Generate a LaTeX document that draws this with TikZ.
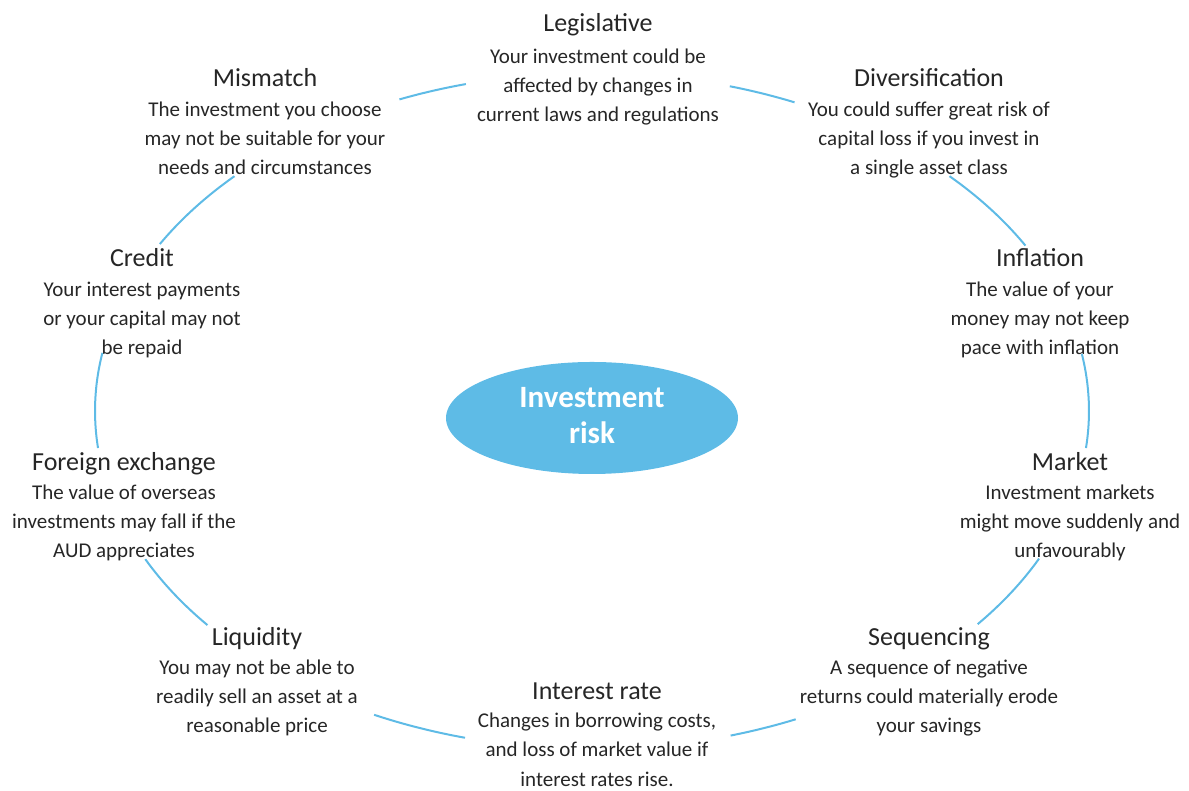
\documentclass[tikz,border=0pt]{standalone}
\usepackage{fontspec}
\setmainfont{Carlito}
\usetikzlibrary{shapes.geometric}
\definecolor{riskblue}{RGB}{94,187,230}
\definecolor{txt}{RGB}{38,38,38}
\begin{document}
\begin{tikzpicture}[x=1pt,y=1pt,
  ttl/.style={font=\fontsize{26}{30}\selectfont, text=txt, inner sep=0pt, anchor=base},
  bdy/.style={font=\fontsize{21}{29}\selectfont, text=txt, align=center, inner sep=0pt},
  seg/.style={draw=riskblue, line width=2pt},
  hub/.style={ellipse, fill=riskblue, minimum width=292pt, minimum height=112pt, inner sep=0pt,
    text=white, align=center, font=\fontsize{31}{36}\selectfont\bfseries},
]
\useasboundingbox (0,0) rectangle (1189,791);

% centre
\node[hub] (hub) at (592,373) {\strut Investment\\\strut risk};

% labels
\node[ttl] (legT) at (598,759) {Legislative};
\node[bdy] (legB) at (598,704) {\strut Your investment could be\\\strut affected by changes in\\\strut current laws and regulations};

\node[ttl] (misT) at (265,704) {Mismatch};
\node[bdy] (misB) at (265,651) {\strut The investment you choose\\\strut may not be suitable for your\\\strut needs and circumstances};

\node[ttl] (divT) at (929,704) {Diversification};
\node[bdy] (divB) at (929,651) {\strut You could suffer great risk of\\\strut capital loss if you invest in\\\strut a single asset class};

\node[ttl] (creT) at (142,524) {Credit};
\node[bdy] (creB) at (142,471) {\strut Your interest payments\\\strut or your capital may not\\\strut be repaid};

\node[ttl] (infT) at (1040,524) {Inflation};
\node[bdy] (infB) at (1040,471) {\strut The value of your\\\strut money may not keep\\\strut pace with inflation};

\node[ttl] (forT) at (124,320) {Foreign exchange};
\node[bdy] (forB) at (124,268) {\strut The value of overseas\\\strut investments may fall if the\\\strut AUD appreciates};

\node[ttl] (marT) at (1070,320) {Market};
\node[bdy] (marB) at (1070,268) {\strut Investment markets\\\strut might move suddenly and\\\strut unfavourably};

\node[ttl] (liqT) at (257,145) {Liquidity};
\node[bdy] (liqB) at (257,93) {\strut You may not be able to\\\strut readily sell an asset at a\\\strut reasonable price};

\node[ttl] (seqT) at (929,145) {Sequencing};
\node[bdy] (seqB) at (929,93) {\strut A sequence of negative\\\strut returns could materially erode\\\strut your savings};

\node[ttl] (intT) at (597,91) {Interest rate};
\node[bdy] (intB) at (597,44.35) {\strut Changes in borrowing costs,\\\strut and loss of market value if\\\rule{0pt}{20.3pt}interest rates rise.};

% ring segments
\coordinate (ring) at (592,380);
\foreach \a/\b [count=\i] in {112.8/104.7, 73.9/65.95, 44.0/29.3, 9.7/-6.3, -25.9/-39.1,
    -65.8/-73.8, -104.8/-116.0, -140.7/-154.0, -173.7/-189.9, 150.4/136.0}{
  \coordinate (s\i) at ([shift={(\a:497pt and 338pt)}]ring);
  \draw[seg] (s\i) arc[start angle=\a, end angle=\b, x radius=497pt, y radius=338pt];
}
\end{tikzpicture}
\end{document}
